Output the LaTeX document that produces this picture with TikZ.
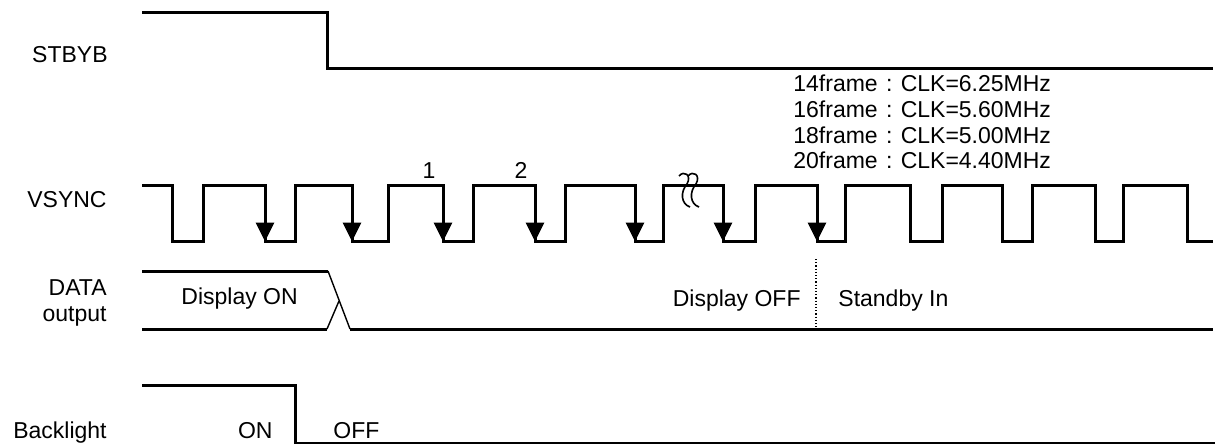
\documentclass[tikz,border=0pt]{standalone}
\usepackage{fontspec}
\setmainfont{Liberation Sans}
\usetikzlibrary{arrows.meta}
\definecolor{SigBlack}{RGB}{0,0,0}
\tikzset{
  sig/.style={draw=SigBlack,line width=1.5pt},
  xover/.style={draw=SigBlack,line width=0.7pt},
  arr/.style={-{Triangle[length=9.5pt,width=9pt]},SigBlack,line width=1.5pt},
  lbl/.style={inner sep=0pt,font=\fontsize{11.5}{13.8}\selectfont},
}

\begin{document}
\begin{tikzpicture}[x=0.5pt,y=-0.5pt]
        \useasboundingbox (0,0) rectangle (1215,444);
        % signal names
        \node[lbl,anchor=base east] (stbyb) at (108,63) {STBYB};
        \node[lbl,anchor=base east] (vsync) at (107,207) {VSYNC};
        \node[lbl,anchor=base east] (data) at (107,295) {DATA};
        \node[lbl,anchor=base east] (output) at (107,321) {output};
        \node[lbl,anchor=base east] (backlight) at (107,438) {Backlight};
        % STBYB
        \draw[sig] (142,12.5) -- (327,12.5) -- (327,69) -- (1213,69);
        % VSYNC
        \draw[sig] (142,185)
          \foreach \f/\r in {172/203,265/295,352/388,443/473,535/565,635/663,
                             723/755,817/845,910/942,1002/1032,1095/1123}
          { -- (\f,185) -- (\f,241) -- (\r,241) -- (\r,185) }
          -- (1187,185) -- (1187,241) -- (1213,241);
        \foreach \x in {265,352,443,535,635,723,817}
          \draw[arr] (\x,213) -- (\x,241.5);
        \node[lbl,anchor=base] (n1) at (429,178) {1};
        \node[lbl,anchor=base] (n2) at (521,178) {2};
        % break mark
        \foreach \dx in {0,9}
          \draw[line width=0.8pt] (679+\dx,176) .. controls (684+\dx,170) and (692+\dx,175) .. (687+\dx,184)
            .. controls (680+\dx,192) and (681+\dx,204) .. (690+\dx,207);
        % frame / clock table
        \node[lbl,anchor=base west] (f14) at (793,92) {14frame\makebox[1em]{:}CLK=6.25MHz};
        \node[lbl,anchor=base west] (f16) at (793,117.5) {16frame\makebox[1em]{:}CLK=5.60MHz};
        \node[lbl,anchor=base west] (f18) at (793,143) {18frame\makebox[1em]{:}CLK=5.00MHz};
        \node[lbl,anchor=base west] (f20) at (793,168.5) {20frame\makebox[1em]{:}CLK=4.40MHz};
        % DATA output
        \draw[sig] (142,271) -- (328,271);
        \draw[xover] (328,271) -- (350,329);
        \draw[sig] (350,329) -- (1213,329);
        \draw[sig] (142,329) -- (327,329);
        \draw[xover] (327,329) -- (339,301);
        \draw[densely dotted,line width=0.6pt] (816,259) -- (816,329);
        \node[lbl,anchor=base west] (dispon) at (181,304) {Display ON};
        \node[lbl,anchor=base east] (dispoff) at (801,306) {Display OFF};
        \node[lbl,anchor=base west] (standby) at (838,306) {Standby In};
        % Backlight
        \draw[sig] (142,385) -- (295,385) -- (295,443) -- (1215,443);
        \node[lbl,anchor=base east] (blon) at (273,438) {ON};
        \node[lbl,anchor=base west] (bloff) at (333,438) {OFF};
      \end{tikzpicture}
\end{document}
